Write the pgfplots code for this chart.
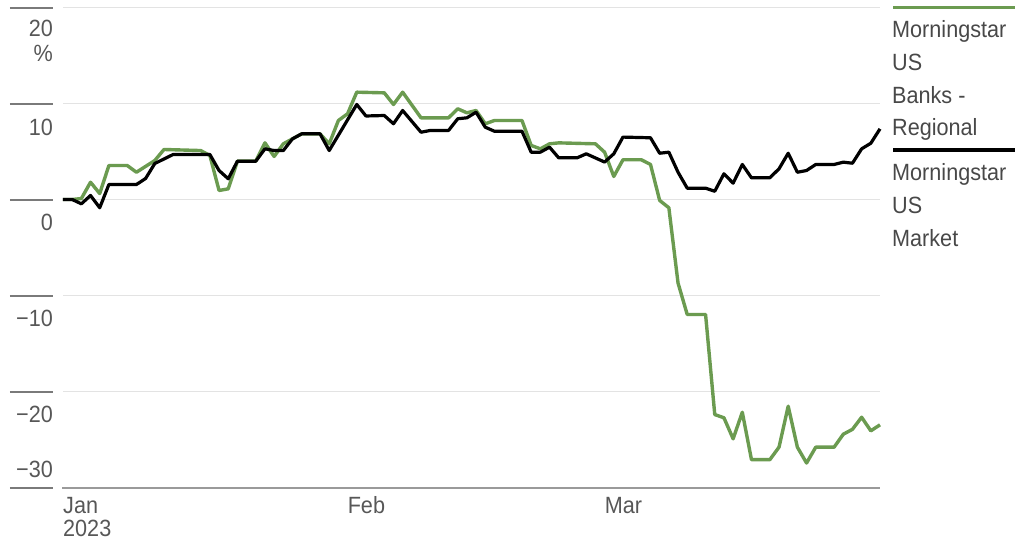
\documentclass[border=0pt]{standalone}
\usepackage{fontspec}
\setmainfont{Liberation Sans}[FakeStretch=0.92]
\usepackage{pgfplots}
\usepackage{pgfplotstable}
\pgfplotsset{compat=1.18}

\definecolor{bankgreen}{HTML}{6B9B50}
\definecolor{gridgray}{HTML}{E3E3E3}
\definecolor{axisgray}{HTML}{9A9A9A}
\definecolor{tickgray}{HTML}{7A7A7A}
\definecolor{labelgray}{HTML}{575757}
\definecolor{legendgray}{HTML}{484848}

% day of 2023 (Jan 1 = 0), cumulative return in %
\pgfplotstableread{
d v
0 0
1 0
2 0.1
3 1.8
4 0.62
5 3.54
7 3.54
8 2.84
10 4.06
11 5.21
15 5.10
16 4.58
17 0.94
18 1.11
19 3.99
21 3.99
22 5.9
23 4.48
24 5.8
25 6.32
26 6.84
28 6.84
29 5.8
30 8.23
31 8.93
32 11.18
35 11.11
36 9.9
37 11.18
39 8.51
42 8.51
43 9.45
44 9.03
45 9.27
46 7.89
47 8.23
50 8.23
51 5.63
52 5.28
53 5.8
54 5.9
58 5.8
59 4.93
60 2.4
61 4.14
63 4.14
64 3.65
65 -0.1
66 -0.86
67 -8.7
68 -11.98
70 -11.98
71 -22.4
72 -22.74
73 -24.93
74 -22.16
75 -27.1
77 -27.1
78 -25.8
79 -21.53
80 -25.8
81 -27.45
82 -25.8
84 -25.8
85 -24.45
86 -23.94
87 -22.68
88 -24.1
89 -23.47
}\banks

\pgfplotstableread{
d v
0 0
1 0
2 -0.45
3 0.42
4 -0.86
5 1.56
8 1.56
9 2.19
10 3.75
12 4.69
16 4.69
17 3.02
18 2.16
19 3.99
21 3.99
22 5.28
23 5.10
24 5.10
25 6.32
26 6.84
28 6.84
29 5.10
30 6.7
31 8.3
32 9.90
33 8.70
35 8.75
36 7.89
37 9.27
39 7.01
40 7.19
42 7.19
43 8.41
44 8.51
45 9.09
46 7.53
47 7.11
50 7.11
51 4.93
52 4.93
53 5.45
54 4.34
56 4.34
57 4.76
59 3.90
60 4.76
61 6.50
64 6.43
65 4.82
66 4.93
67 2.84
68 1.18
70 1.18
71 0.86
72 2.68
73 1.70
74 3.65
75 2.26
77 2.26
78 3.20
79 4.82
80 2.84
81 3.02
82 3.65
84 3.65
85 3.89
86 3.78
87 5.28
88 5.86
89 7.36
}\market

\begin{document}
\begin{tikzpicture}[
  lbl/.style={anchor=base east, inner sep=0pt, text=labelgray, font=\fontsize{23.5}{27}\selectfont},
  xlbl/.style={anchor=base west, inner sep=0pt, text=labelgray, font=\fontsize{23.5}{27}\selectfont},
  leg/.style={anchor=base west, inner sep=0pt, text=legendgray, font=\fontsize{23.5}{27}\selectfont}]
\path[use as bounding box] (0,0) rectangle (1015pt,542pt);
\begin{axis}[
  at={(63pt,54.5pt)}, anchor=south west,
  scale only axis, width=817pt, height=480pt,
  xmin=0, xmax=89, ymin=-30, ymax=20,
  axis line style={draw=none},
  xtick=\empty,
  ytick={-20,-10,0,10,20}, yticklabels={},
  major tick length=0pt,
  ymajorgrids, grid style={gridgray, line width=1.5pt},
  clip=false]

  \draw[axisgray, line width=2pt] (axis cs:-0.1,-30) -- (axis cs:89,-30);
  \pgfplotsinvokeforeach{-30,-20,-10,0,10,20}{
    \draw[tickgray, line width=2pt] ([xshift=-53pt]axis cs:0,#1) -- ([xshift=-10pt]axis cs:0,#1);
  }

  \addplot[bankgreen, line width=3.4pt, line join=round] table[x=d, y=v] {\banks};
  \addplot[black, line width=3.2pt, line join=round] table[x=d, y=v] {\market};

  \node[lbl] at ([xshift=-10pt,yshift=-29pt]axis cs:0,20) {20};
  \node[lbl] at ([xshift=-10pt,yshift=-54pt]axis cs:0,20) {\%};
  \node[lbl] at ([xshift=-10pt,yshift=-32pt]axis cs:0,10) {10};
  \node[lbl] at ([xshift=-10pt,yshift=-31pt]axis cs:0,0) {0};
  \node[lbl] at ([xshift=-10pt,yshift=-31pt]axis cs:0,-10) {−10};
  \node[lbl] at ([xshift=-10pt,yshift=-31pt]axis cs:0,-20) {−20};
  \node[lbl] at ([xshift=-10pt,yshift=10pt]axis cs:0,-30) {−30};

  \node[xlbl] at ([yshift=-26pt]axis cs:0,-30) {Jan};
  \node[xlbl] at ([yshift=-49pt]axis cs:0,-30) {2023};
  \node[xlbl] at ([yshift=-26pt]axis cs:31,-30) {Feb};
  \node[xlbl] at ([yshift=-26pt]axis cs:59,-30) {Mar};
\end{axis}

\draw[bankgreen, line width=3pt] (893pt,534pt) -- (1015pt,534pt);
\node[leg] at (892pt,504pt) {Morningstar};
\node[leg] at (892pt,471pt) {US};
\node[leg] at (892pt,438pt) {Banks -};
\node[leg] at (892pt,406pt) {Regional};
\draw[black, line width=3.5pt] (893pt,392pt) -- (1015pt,392pt);
\node[leg] at (892pt,362pt) {Morningstar};
\node[leg] at (892pt,329pt) {US};
\node[leg] at (892pt,296pt) {Market};
\end{tikzpicture}
\end{document}
